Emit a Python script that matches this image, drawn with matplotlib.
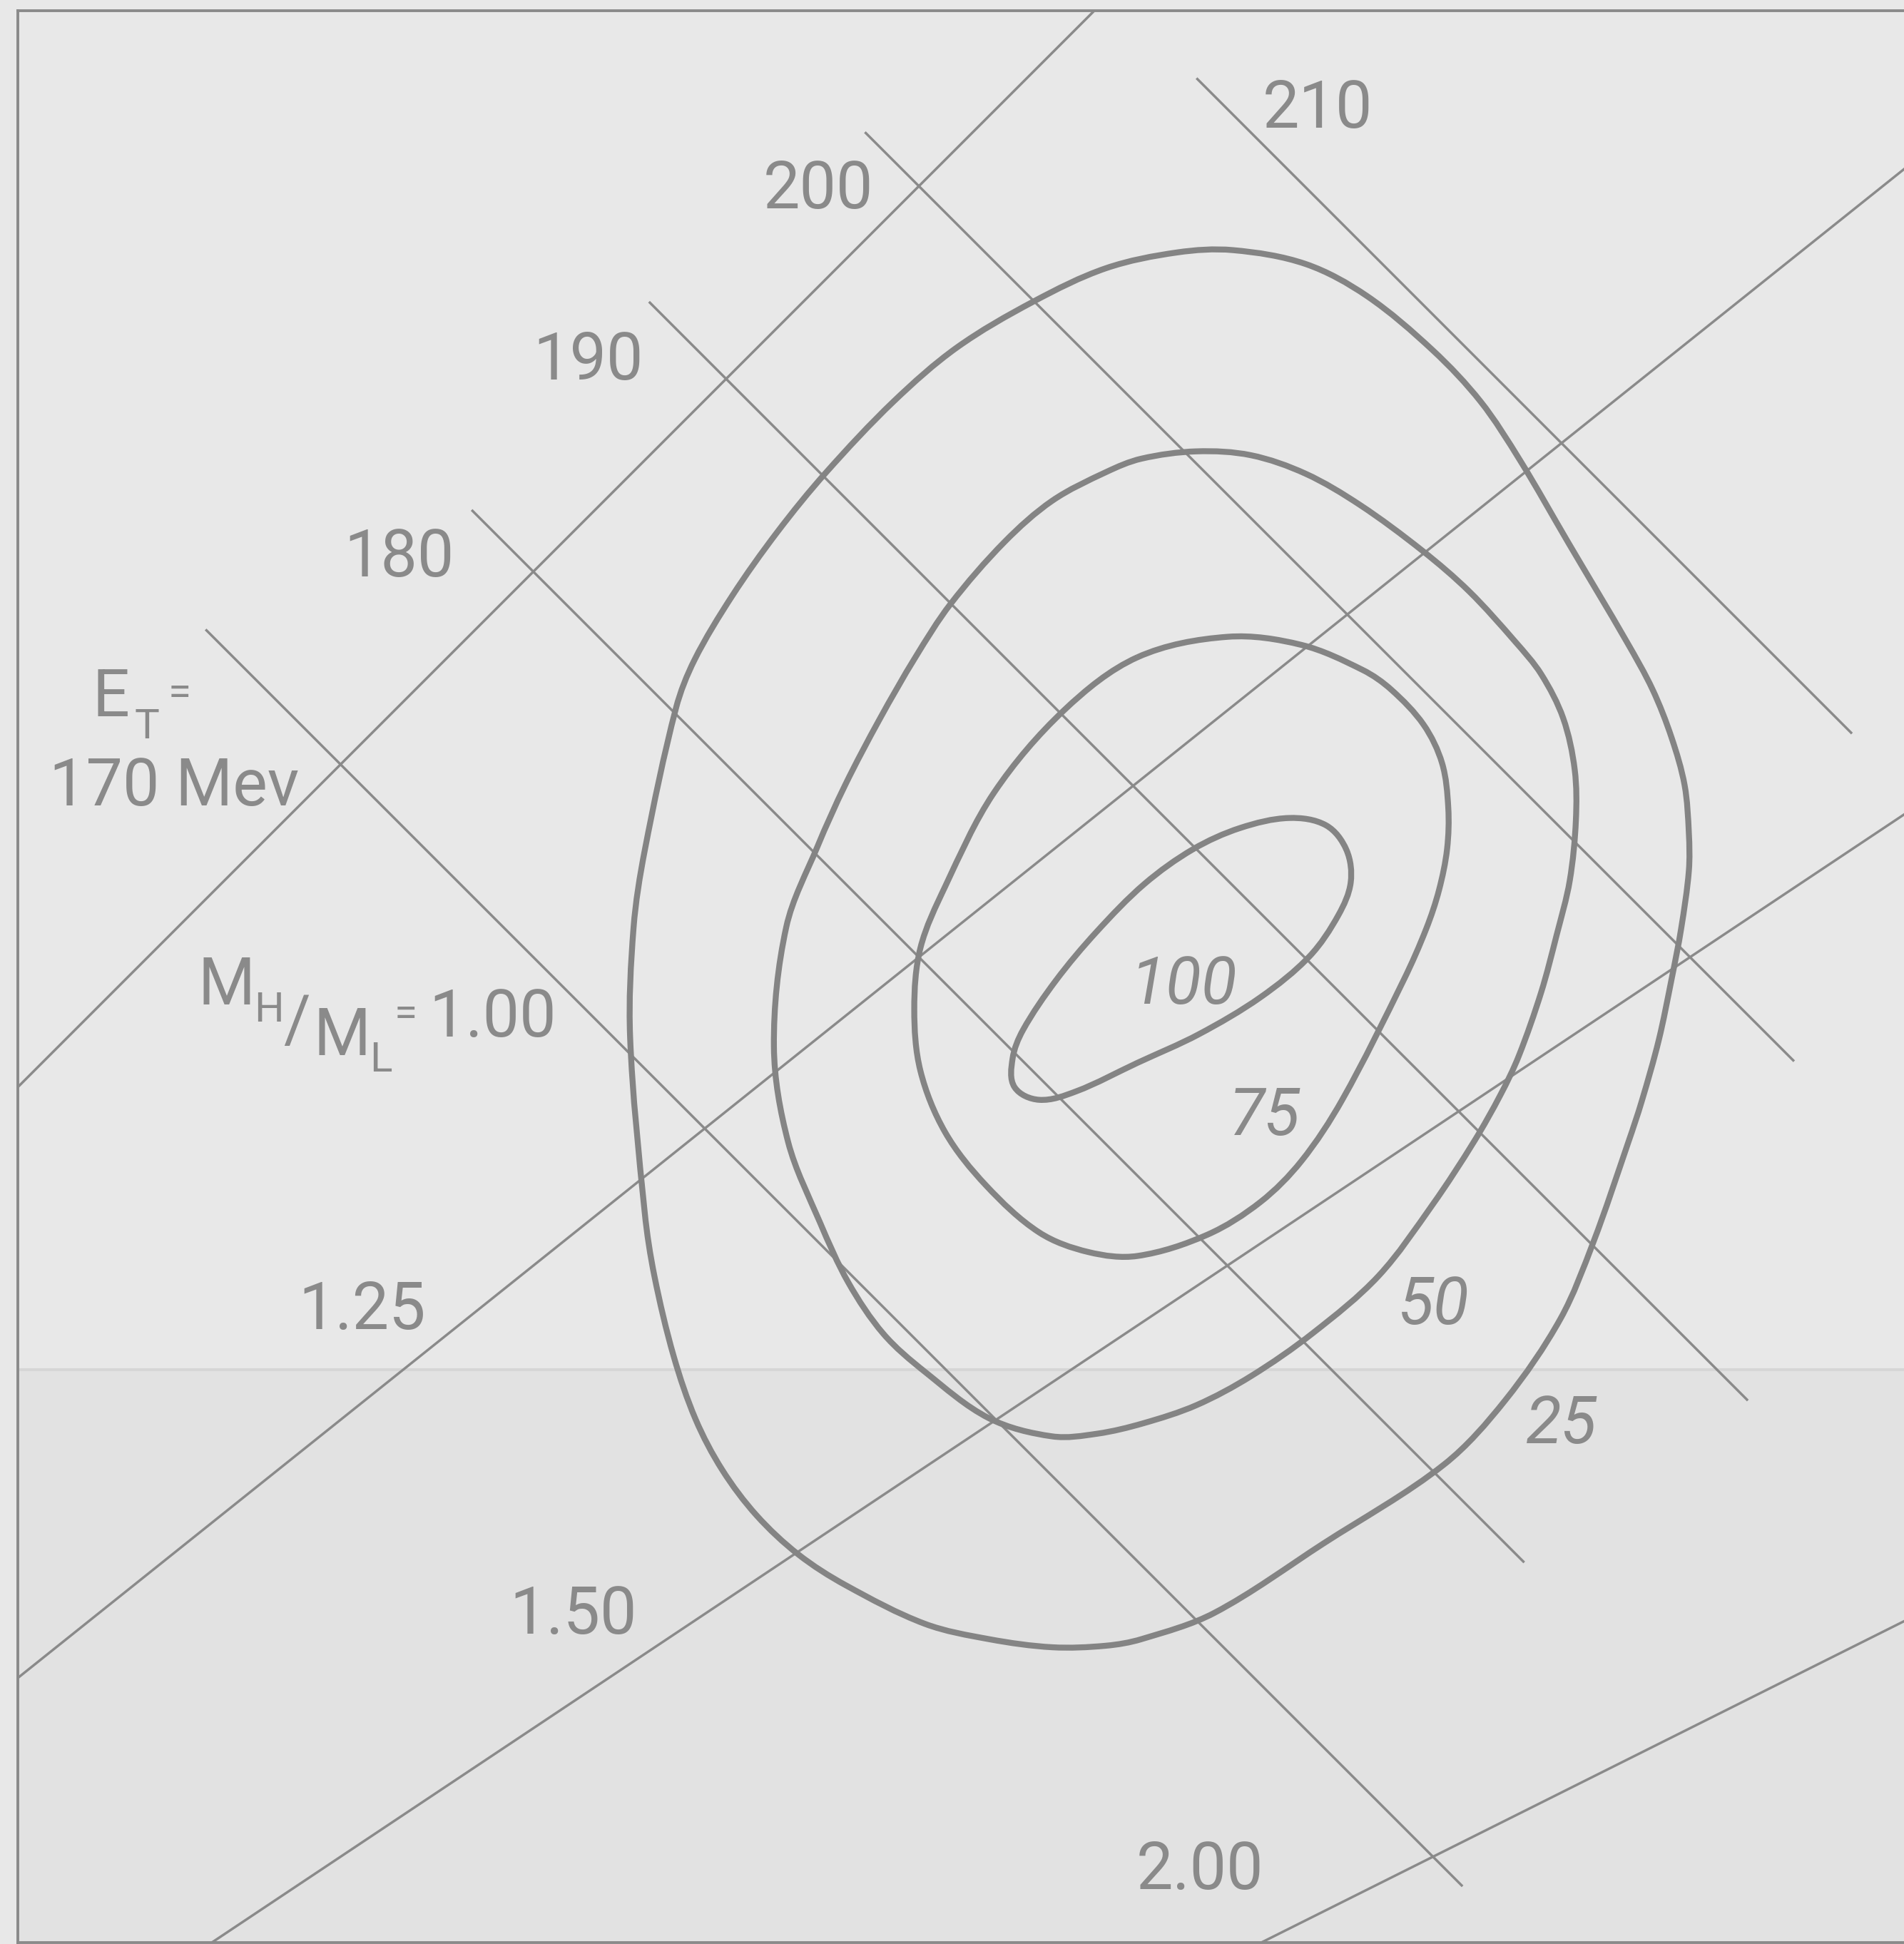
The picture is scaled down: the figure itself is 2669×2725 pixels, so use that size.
import matplotlib
matplotlib.use('Agg')
import matplotlib.pyplot as plt
from matplotlib.path import Path
from matplotlib.patches import PathPatch

# total kinetic energy lines E_T (Mev), drawn as segments between these E_L values
ET_values = [170, 180, 190, 200, 210]
ET_start = [81.5, 88.4, 93.0, 98.6, 107.2]
ET_end = [114.1, 115.7, 121.5, 122.7, 124.2]

# mass ratio lines M_H/M_L  (E_H = E_L / ratio)
ratios = [1.00, 1.25, 1.50, 2.00]

# contour levels and traced points (E_L, E_H in Mev)
levels = [25, 50, 75, 100]

c25_x = [102.96, 104.85, 106.70, 108.14, 110.03, 111.62, 113.33, 114.57, 115.59, 116.85,
         118.36, 119.03, 119.52, 119.86, 119.97, 119.97, 119.77, 119.52, 119.19, 118.75,
         118.40, 117.49, 116.64, 115.21, 113.62, 110.49, 107.66, 105.77, 104.85, 103.46,
         101.82, 100.15, 98.10, 96.87, 95.79, 94.90, 94.21, 93.64, 93.14, 92.89,
         92.51, 92.60, 92.89, 93.70, 94.18, 95.15, 96.33, 97.59, 99.34, 100.98]
c25_y = [97.00, 97.87, 98.28, 98.34, 97.98, 97.15, 95.74, 94.41, 92.89, 90.74,
         88.18, 86.94, 85.70, 84.46, 83.22, 82.24, 80.74, 79.42, 77.85, 76.27,
         75.20, 72.60, 70.62, 68.51, 66.84, 64.79, 62.99, 62.31, 62.14, 62.10,
         62.31, 62.71, 63.71, 64.51, 65.52, 66.70, 68.01, 69.65, 71.73, 73.37,
         77.93, 80.77, 82.77, 86.46, 87.71, 89.36, 91.03, 92.57, 94.41, 95.81]

c50_x = [104.85, 105.77, 107.20, 108.61, 110.03, 111.44, 113.05, 114.27, 115.47, 116.14,
         116.71, 117.01, 117.04, 116.88, 116.54, 116.14, 115.56, 115.09, 114.40, 113.33,
         111.92, 110.22, 108.61, 107.20, 105.82, 104.63, 103.46, 101.82, 100.15, 99.08,
         98.17, 97.43, 96.61, 96.24, 96.56, 97.37, 98.09, 98.98, 99.91, 100.82,
         102.22, 103.46]
c50_y = [92.58, 92.93, 93.12, 93.02, 92.54, 91.73, 90.55, 89.49, 88.18, 87.34,
         86.20, 84.86, 83.55, 81.98, 80.57, 79.09, 77.44, 76.44, 75.22, 73.59,
         71.73, 70.25, 69.13, 68.38, 67.91, 67.64, 67.57, 68.04, 69.25, 70.23,
         71.56, 73.13, 75.20, 77.68, 80.78, 82.87, 84.47, 86.17, 87.78, 89.16,
         90.77, 91.84]

c75_x = [105.67, 108.01, 109.92, 111.51, 112.25, 113.09, 113.57, 113.73, 113.70, 113.49,
         113.16, 112.58, 110.98, 109.92, 108.86, 107.48, 105.67, 104.40, 103.12, 101.74,
         100.68, 100.04, 99.88, 100.04, 100.68, 101.95, 103.76]
c75_y = [87.78, 88.31, 88.10, 87.45, 86.94, 86.03, 85.03, 83.88, 82.81, 81.74,
         80.74, 79.42, 76.30, 74.71, 73.65, 72.80, 72.25, 72.35, 72.86, 74.08,
         75.46, 77.05, 78.65, 80.24, 81.83, 84.27, 86.40]

c100_x = [107.11, 108.33, 109.60, 110.56, 111.09, 111.20, 110.88, 110.13, 108.86, 107.26,
          105.67, 104.08, 103.12, 102.48, 102.43, 102.70, 103.55, 104.61, 105.85]
c100_y = [82.80, 83.35, 83.61, 83.42, 82.78, 81.94, 81.09, 80.02, 78.96, 78.00,
          77.26, 76.52, 76.30, 76.63, 77.37, 78.11, 79.39, 80.66, 81.90]


# smooth closed outline through the traced points (cubic Bezier pieces,
# tangent at each point taken from its two neighbours)
def closed_curve(xs, ys):
    n = len(xs)
    pts = list(zip(xs, ys))
    tang = []
    for i in range(n):
        (xa, ya), (xb, yb) = pts[i - 1], pts[(i + 1) % n]
        d = ((xb - xa) ** 2 + (yb - ya) ** 2) ** 0.5
        tang.append(((xb - xa) / d, (yb - ya) / d))
    verts = [pts[0]]
    codes = [Path.MOVETO]
    for i in range(n):
        j = (i + 1) % n
        (x1, y1), (x2, y2) = pts[i], pts[j]
        h = ((x2 - x1) ** 2 + (y2 - y1) ** 2) ** 0.5 / 3
        verts += [(x1 + tang[i][0] * h, y1 + tang[i][1] * h),
                  (x2 - tang[j][0] * h, y2 - tang[j][1] * h),
                  (x2, y2)]
        codes += [Path.CURVE4] * 3
    return Path(verts, codes)


def main():
    ink = '#8a8a8a'
    paper = '#e8e8e8'
    font = dict(family='Roboto', color=ink)

    fig = plt.figure(figsize=(26.69, 27.25), dpi=100, facecolor=paper)
    ax = fig.add_axes([25 / 2669, 2 / 2725, 1 - 25 / 2669, 2708 / 2725])
    ax.set_facecolor(paper)
    ax.set_xlim(76.63, 125.55)
    ax.set_ylim(54.44, 104.55)
    ax.set_xticks([])
    ax.set_yticks([])
    ax.spines['right'].set_visible(False)
    for side in ['left', 'top', 'bottom']:
        ax.spines[side].set_color(ink)
        ax.spines[side].set_linewidth(2.8)

    # paper fold, lower half a bit darker
    ax.axhspan(54.0, 69.3, color='#e2e2e2', zorder=0, lw=0)
    ax.axhline(69.3, color='#d6d6d6', lw=3, zorder=0.5)

    # mass ratio lines through the origin
    for r in ratios:
        ax.axline((0, 0), slope=1 / r, color=ink, lw=2.5, zorder=1)

    # constant total energy lines
    for et, x0, x1 in zip(ET_values, ET_start, ET_end):
        ax.plot([x0, x1], [et - x0, et - x1], color=ink, lw=2.5, zorder=1,
                solid_capstyle='butt')

    # contours
    for xs, ys in [(c25_x, c25_y), (c50_x, c50_y), (c75_x, c75_y), (c100_x, c100_y)]:
        ax.add_patch(PathPatch(closed_curve(xs, ys), fill=False, ec='#848484',
                               lw=6.0, zorder=2))

    # energy labels
    big = 66
    small = 42
    et_pos = [(86.52, 89.88), (91.43, 94.99), (97.39, 99.43), (110.35, 101.52)]
    for et, (x, y) in zip(ET_values[1:], et_pos):
        ax.text(x, y, str(et), ha='center', va='baseline', fontsize=big, **font)
    ax.text(78.57, 86.25, 'E', ha='left', va='baseline', fontsize=big, **font)
    ax.text(79.66, 85.68, 'T', ha='left', va='baseline', fontsize=small, **font)
    ax.text(80.83, 86.84, '=', ha='center', va='center', fontsize=small, **font)
    ax.text(77.44, 83.94, '%d Mev' % ET_values[0], ha='left', va='baseline',
            fontsize=big, **font)

    # ratio labels
    ax.text(81.31, 78.78, 'M', ha='left', va='baseline', fontsize=big, **font)
    ax.text(82.75, 78.32, 'H', ha='left', va='baseline', fontsize=small, **font)
    ax.text(83.52, 77.81, '/', ha='left', va='baseline', fontsize=big, **font)
    ax.text(84.30, 77.46, 'M', ha='left', va='baseline', fontsize=big, **font)
    ax.text(85.76, 77.04, 'L', ha='left', va='baseline', fontsize=small, **font)
    ax.text(86.68, 78.50, '=', ha='center', va='center', fontsize=small, **font)
    ax.text(87.30, 77.94, '%.2f' % ratios[0], ha='left', va='baseline',
            fontsize=big, **font)
    r_pos = [(85.56, 70.36), (91.03, 62.45), (107.29, 55.83)]
    for r, (x, y) in zip(ratios[1:], r_pos):
        ax.text(x, y, '%.2f' % r, ha='center', va='baseline', fontsize=big, **font)

    # contour labels
    lv_pos = [(116.67, 67.40), (113.36, 70.49), (108.96, 75.39), (106.87, 78.79)]
    for lv, (x, y) in zip(levels, lv_pos):
        ax.text(x, y, str(lv), ha='center', va='baseline', fontsize=big,
                style='italic', **font)

    fig.savefig('out.png', dpi=100, facecolor=paper)


if __name__ == '__main__':
    main()
